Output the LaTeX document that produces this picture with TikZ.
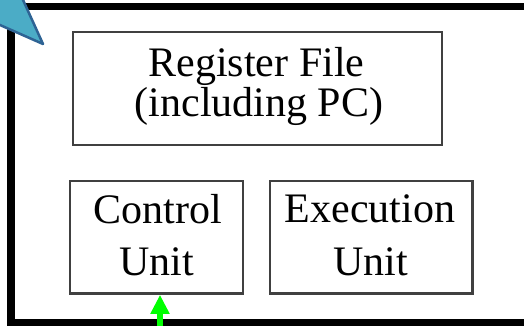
\documentclass[tikz,border=0pt]{standalone}
\usepackage{fontspec}
\setmainfont{Liberation Serif}
\usetikzlibrary{arrows.meta}
\definecolor{calloutfill}{RGB}{75,172,198}
\definecolor{calloutline}{RGB}{46,99,148}
\definecolor{boxline}{RGB}{64,64,64}
\definecolor{arrowgreen}{RGB}{0,255,0}
\tikzset{
  unitbox/.style={draw=boxline, line width=2.6pt, inner sep=0pt, minimum height=112.5pt},
  regbox/.style={draw=boxline, line width=2pt, inner sep=0pt},
  lbl/.style={inner sep=0pt, anchor=base, font=\fontsize{42pt}{48pt}\selectfont},
  frameline/.style={line width=7.5pt, black},
  callout/.style={fill=calloutfill, draw=calloutline, line width=2.5pt, line join=round},
  garrow/.style={arrowgreen, line width=6pt, -{Triangle[width=18pt,length=19pt]}}
}
\begin{document}
\begin{tikzpicture}[x=1pt,y=-1pt]
\useasboundingbox (0,0) rectangle (524,326);
\clip (0,0) rectangle (524,326);
\fill[white] (0,0) rectangle (524,326);
% outer frame (open to the right)
\draw[frameline] (540,6.5) -- (11,6.5) -- (11,322.3) -- (540,322.3);
% boxes
\node[regbox, minimum width=369pt, minimum height=112.5pt] (rf) at (257.5,88.75) {};
\node[unitbox, minimum width=173pt] (cu) at (156.5,237.25) {};
\node[unitbox, minimum width=202.5pt] (eu) at (371.25,237.25) {};
% labels
\node[lbl] (rf1) at (256.5,77) {Register File};
\node[lbl] (rf2) at (259,117) {(including PC)};
\node[lbl] (cu1) at (157.5,223.5) {Control};
\node[lbl] (cu2) at (156.7,275.7) {Unit};
\node[lbl] (eu1) at (370,222.5) {Execution};
\node[lbl] (eu2) at (370.8,275.7) {Unit};
% callout pointer
\draw[callout] (-10,-10) -- (18.5,-10) -- (43,44) -- (-10,20.6) -- cycle;
% green arrow into control unit
\coordinate (gin) at (160,340);
\draw[garrow] (gin) -- (gin |- cu.south);
\end{tikzpicture}
\end{document}
